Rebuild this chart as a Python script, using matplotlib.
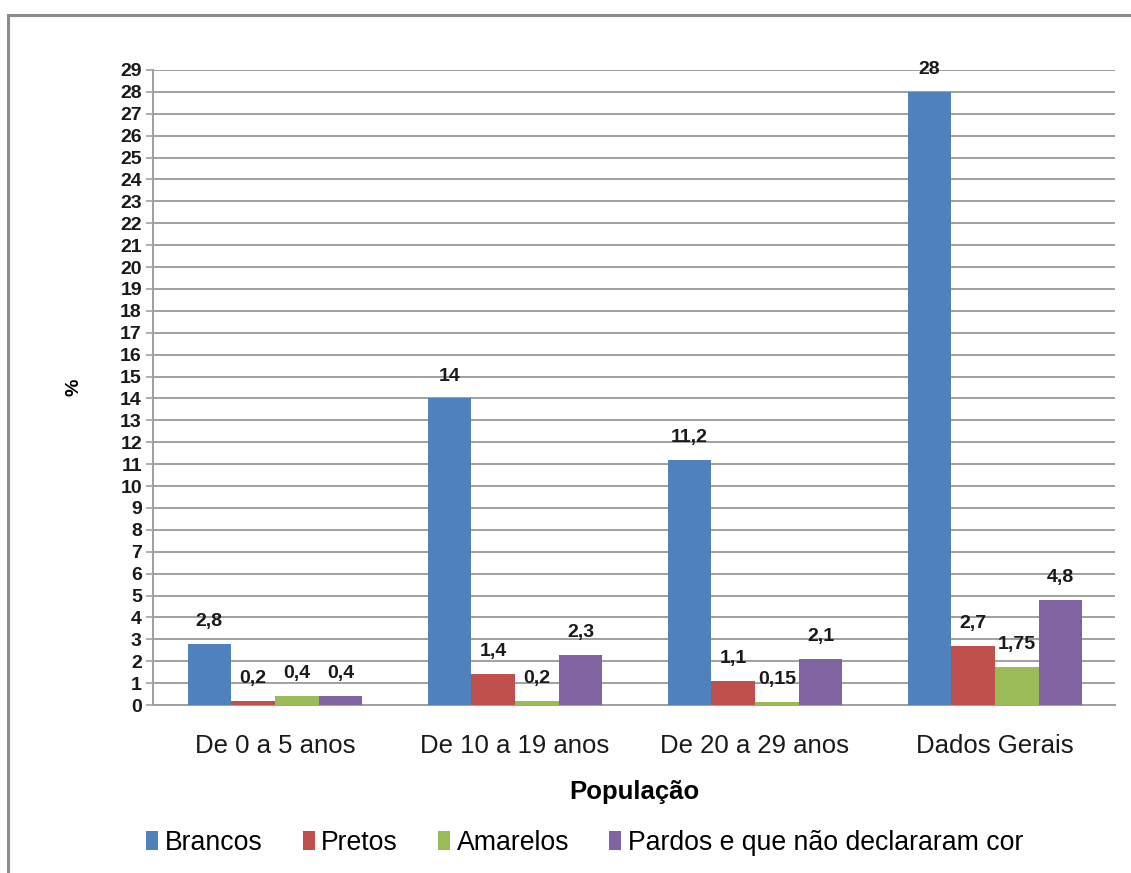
import matplotlib
matplotlib.use("Agg")
import matplotlib.pyplot as plt
import matplotlib.patches as mpatches
import numpy as np

plt.rcParams['font.family'] = ['Liberation Sans', 'DejaVu Sans']

categories = ["De 0 a 5 anos", "De 10 a 19 anos", "De 20 a 29 anos", "Dados Gerais"]
series_names = ["Brancos", "Pretos", "Amarelos", "Pardos e que não declararam cor"]
brancos = [2.8, 14, 11.2, 28]
pretos = [0.2, 1.4, 1.1, 2.7]
amarelos = [0.4, 0.2, 0.15, 1.75]
pardos = [0.4, 2.3, 2.1, 4.8]
label_texts = [
    ["2,8", "14", "11,2", "28"],
    ["0,2", "1,4", "1,1", "2,7"],
    ["0,4", "0,2", "0,15", "1,75"],
    ["0,4", "2,3", "2,1", "4,8"],
]
y_ticks = list(range(0, 30))
colors = ["#4F81BD", "#C0504D", "#9BBB59", "#8064A2"]

fig = plt.figure(figsize=(11.31, 8.73), dpi=100)
ax = fig.add_axes([153/1131, 168/873, 962/1131, 635/873])

x = np.arange(len(categories))
w = 0.182
series = [brancos, pretos, amarelos, pardos]
for i, (vals, name, col) in enumerate(zip(series, series_names, colors)):
    xs = x + (i - 1.5) * w
    bars = ax.bar(xs, vals, width=w, color=col, label=name, zorder=3)
    for b, t in zip(bars, label_texts[i]):
        ax.annotate(t, (b.get_x() + b.get_width()/2, b.get_height()),
                    xytext=(0, 10), textcoords="offset points",
                    ha="center", va="bottom", fontsize=14,
                    fontweight="bold", color="#1a1a1a", zorder=4)

ax.set_xlim(-0.508, 3.5)
ax.set_ylim(0, 29)
ax.set_yticks(y_ticks)
ax.set_yticklabels([str(v) for v in y_ticks], fontsize=14, fontweight="bold", color="#1a1a1a")
ax.set_xticks(x)
ax.set_xticklabels(categories, fontsize=18.5, color="#1a1a1a")
ax.tick_params(axis="x", length=0, pad=21)
ax.tick_params(axis="y", length=5, width=1.2, color="#A0A0A0", pad=3)
ax.grid(axis="y", color="#A0A0A0", linewidth=1.4, zorder=0)
ax.set_axisbelow(True)
for s in ["top", "right"]:
    ax.spines[s].set_visible(False)
ax.spines["left"].set_color("#A0A0A0")
ax.spines["left"].set_linewidth(1.4)
ax.spines["bottom"].set_color("#A0A0A0")
ax.spines["bottom"].set_linewidth(1.4)

ax.set_ylabel("%", fontsize=14, fontweight="bold", labelpad=27)
ax.set_xlabel("População", fontsize=18.5, fontweight="bold", labelpad=16)

leg = fig.legend(loc="center", bbox_to_anchor=(0.517, 1 - 843/873), ncol=4,
                 frameon=False, fontsize=19.2, handlelength=0.45, handleheight=0.7,
                 handletextpad=0.25, columnspacing=1.5)

border = mpatches.Rectangle((8/1131, -0.1), 1.2, 1 - 15/873 + 0.1,
                            transform=fig.transFigure, fill=False,
                            edgecolor="#8C8C8C", linewidth=2.2)
fig.patches.append(border)

fig.savefig("out.png", dpi=100)
